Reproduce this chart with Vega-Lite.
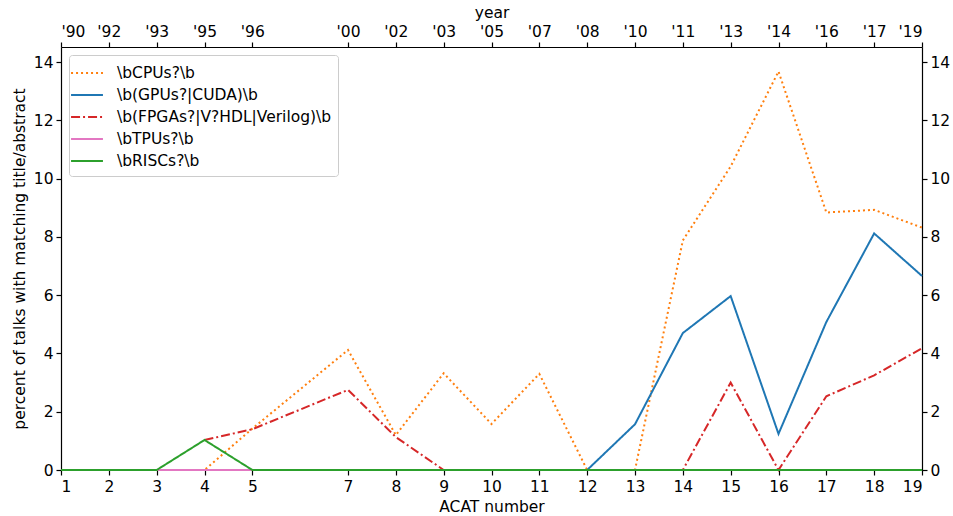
{
  "$schema": "https://vega.github.io/schema/vega-lite/v6.json",
  "width": 861,
  "height": 423,
  "autosize": "none",
  "padding": {"left": 61, "top": 47, "right": 31, "bottom": 46},
  "background": "white",
  "config": {
    "font": "DejaVu Sans",
    "view": {"stroke": null},
    "axis": {
      "domainColor": "black", "domainWidth": 1.2, "tickColor": "black", "tickWidth": 1.2, "tickSize": 5,
      "labelColor": "black", "labelFontSize": 15.5, "titleFontSize": 15.5, "titleFontWeight": "normal",
      "titleColor": "black", "grid": false, "labelPadding": 3, "zindex": 0
    }
  },
  "data": {
    "values": [
      {"acat": 1, "series": "\\bCPUs?\\b", "value": 0},
      {"acat": 2, "series": "\\bCPUs?\\b", "value": 0},
      {"acat": 3, "series": "\\bCPUs?\\b", "value": 0},
      {"acat": 4, "series": "\\bCPUs?\\b", "value": 0},
      {"acat": 5, "series": "\\bCPUs?\\b", "value": 1.42},
      {"acat": 7, "series": "\\bCPUs?\\b", "value": 4.12},
      {"acat": 8, "series": "\\bCPUs?\\b", "value": 1.2},
      {"acat": 9, "series": "\\bCPUs?\\b", "value": 3.32},
      {"acat": 10, "series": "\\bCPUs?\\b", "value": 1.58},
      {"acat": 11, "series": "\\bCPUs?\\b", "value": 3.3},
      {"acat": 12, "series": "\\bCPUs?\\b", "value": 0},
      {"acat": 13, "series": "\\bCPUs?\\b", "value": 0},
      {"acat": 14, "series": "\\bCPUs?\\b", "value": 7.88},
      {"acat": 15, "series": "\\bCPUs?\\b", "value": 10.42},
      {"acat": 16, "series": "\\bCPUs?\\b", "value": 13.68},
      {"acat": 17, "series": "\\bCPUs?\\b", "value": 8.84},
      {"acat": 18, "series": "\\bCPUs?\\b", "value": 8.93},
      {"acat": 19, "series": "\\bCPUs?\\b", "value": 8.32},
      {"acat": 1, "series": "\\b(GPUs?|CUDA)\\b", "value": 0},
      {"acat": 2, "series": "\\b(GPUs?|CUDA)\\b", "value": 0},
      {"acat": 3, "series": "\\b(GPUs?|CUDA)\\b", "value": 0},
      {"acat": 4, "series": "\\b(GPUs?|CUDA)\\b", "value": 0},
      {"acat": 5, "series": "\\b(GPUs?|CUDA)\\b", "value": 0},
      {"acat": 7, "series": "\\b(GPUs?|CUDA)\\b", "value": 0},
      {"acat": 8, "series": "\\b(GPUs?|CUDA)\\b", "value": 0},
      {"acat": 9, "series": "\\b(GPUs?|CUDA)\\b", "value": 0},
      {"acat": 10, "series": "\\b(GPUs?|CUDA)\\b", "value": 0},
      {"acat": 11, "series": "\\b(GPUs?|CUDA)\\b", "value": 0},
      {"acat": 12, "series": "\\b(GPUs?|CUDA)\\b", "value": 0},
      {"acat": 13, "series": "\\b(GPUs?|CUDA)\\b", "value": 1.57},
      {"acat": 14, "series": "\\b(GPUs?|CUDA)\\b", "value": 4.7},
      {"acat": 15, "series": "\\b(GPUs?|CUDA)\\b", "value": 5.97},
      {"acat": 16, "series": "\\b(GPUs?|CUDA)\\b", "value": 1.24},
      {"acat": 17, "series": "\\b(GPUs?|CUDA)\\b", "value": 5.08},
      {"acat": 18, "series": "\\b(GPUs?|CUDA)\\b", "value": 8.12},
      {"acat": 19, "series": "\\b(GPUs?|CUDA)\\b", "value": 6.66},
      {"acat": 4, "series": "\\b(FPGAs?|V?HDL|Verilog)\\b", "value": 1.03},
      {"acat": 5, "series": "\\b(FPGAs?|V?HDL|Verilog)\\b", "value": 1.4},
      {"acat": 7, "series": "\\b(FPGAs?|V?HDL|Verilog)\\b", "value": 2.75},
      {"acat": 8, "series": "\\b(FPGAs?|V?HDL|Verilog)\\b", "value": 1.13},
      {"acat": 9, "series": "\\b(FPGAs?|V?HDL|Verilog)\\b", "value": 0},
      {"acat": 10, "series": "\\b(FPGAs?|V?HDL|Verilog)\\b", "value": 0},
      {"acat": 11, "series": "\\b(FPGAs?|V?HDL|Verilog)\\b", "value": 0},
      {"acat": 12, "series": "\\b(FPGAs?|V?HDL|Verilog)\\b", "value": 0},
      {"acat": 13, "series": "\\b(FPGAs?|V?HDL|Verilog)\\b", "value": 0},
      {"acat": 14, "series": "\\b(FPGAs?|V?HDL|Verilog)\\b", "value": 0},
      {"acat": 15, "series": "\\b(FPGAs?|V?HDL|Verilog)\\b", "value": 3.0},
      {"acat": 16, "series": "\\b(FPGAs?|V?HDL|Verilog)\\b", "value": 0},
      {"acat": 17, "series": "\\b(FPGAs?|V?HDL|Verilog)\\b", "value": 2.53},
      {"acat": 18, "series": "\\b(FPGAs?|V?HDL|Verilog)\\b", "value": 3.25},
      {"acat": 19, "series": "\\b(FPGAs?|V?HDL|Verilog)\\b", "value": 4.18},
      {"acat": 1, "series": "\\bTPUs?\\b", "value": 0},
      {"acat": 2, "series": "\\bTPUs?\\b", "value": 0},
      {"acat": 3, "series": "\\bTPUs?\\b", "value": 0},
      {"acat": 4, "series": "\\bTPUs?\\b", "value": 0},
      {"acat": 5, "series": "\\bTPUs?\\b", "value": 0},
      {"acat": 7, "series": "\\bTPUs?\\b", "value": 0},
      {"acat": 8, "series": "\\bTPUs?\\b", "value": 0},
      {"acat": 9, "series": "\\bTPUs?\\b", "value": 0},
      {"acat": 10, "series": "\\bTPUs?\\b", "value": 0},
      {"acat": 11, "series": "\\bTPUs?\\b", "value": 0},
      {"acat": 12, "series": "\\bTPUs?\\b", "value": 0},
      {"acat": 13, "series": "\\bTPUs?\\b", "value": 0},
      {"acat": 14, "series": "\\bTPUs?\\b", "value": 0},
      {"acat": 15, "series": "\\bTPUs?\\b", "value": 0},
      {"acat": 16, "series": "\\bTPUs?\\b", "value": 0},
      {"acat": 17, "series": "\\bTPUs?\\b", "value": 0},
      {"acat": 18, "series": "\\bTPUs?\\b", "value": 0},
      {"acat": 19, "series": "\\bTPUs?\\b", "value": 0},
      {"acat": 1, "series": "\\bRISCs?\\b", "value": 0},
      {"acat": 2, "series": "\\bRISCs?\\b", "value": 0},
      {"acat": 3, "series": "\\bRISCs?\\b", "value": 0},
      {"acat": 4, "series": "\\bRISCs?\\b", "value": 1.03},
      {"acat": 5, "series": "\\bRISCs?\\b", "value": 0},
      {"acat": 7, "series": "\\bRISCs?\\b", "value": 0},
      {"acat": 8, "series": "\\bRISCs?\\b", "value": 0},
      {"acat": 9, "series": "\\bRISCs?\\b", "value": 0},
      {"acat": 10, "series": "\\bRISCs?\\b", "value": 0},
      {"acat": 11, "series": "\\bRISCs?\\b", "value": 0},
      {"acat": 12, "series": "\\bRISCs?\\b", "value": 0},
      {"acat": 13, "series": "\\bRISCs?\\b", "value": 0},
      {"acat": 14, "series": "\\bRISCs?\\b", "value": 0},
      {"acat": 15, "series": "\\bRISCs?\\b", "value": 0},
      {"acat": 16, "series": "\\bRISCs?\\b", "value": 0},
      {"acat": 17, "series": "\\bRISCs?\\b", "value": 0},
      {"acat": 18, "series": "\\bRISCs?\\b", "value": 0},
      {"acat": 19, "series": "\\bRISCs?\\b", "value": 0}
    ]
  },
  "layer": [
    {
      "mark": {"type": "line", "strokeWidth": 2, "clip": false},
      "encoding": {
        "x": {"field": "acat", "type": "quantitative",
          "scale": {"domain": [1, 19], "nice": false, "zero": false},
          "axis": {"orient": "bottom", "title": "ACAT number", "values": [1,2,3,4,5,7,8,9,10,11,12,13,14,15,16,17,18,19], "format": "d", "labelPadding": 4, "titlePadding": 5}},
        "y": {"field": "value", "type": "quantitative",
          "scale": {"domain": [0, 14.52], "nice": false},
          "axis": {"orient": "left", "title": "percent of talks with matching title/abstract", "values": [0,2,4,6,8,10,12,14], "titlePadding": 6}},
        "color": {"field": "series", "type": "nominal", "sort": null,
          "scale": {"domain": ["\\bCPUs?\\b", "\\b(GPUs?|CUDA)\\b", "\\b(FPGAs?|V?HDL|Verilog)\\b", "\\bTPUs?\\b", "\\bRISCs?\\b"],
                    "range": ["#ff7f0e", "#1f77b4", "#d62728", "#e377c2", "#2ca02c"]},
          "legend": {"title": null, "orient": "top-left", "offset": 8, "symbolType": "M-1.45,0H1.45", "symbolSize": 484, "symbolStrokeWidth": 2, "symbolFillColor": "transparent",
                     "labelFontSize": 15.5, "labelColor": "black", "labelLimit": 0, "strokeColor": "#cccccc", "fillColor": "white", "cornerRadius": 3,
                     "padding": 6, "rowPadding": 1, "labelOffset": 18}},
        "strokeDash": {"field": "series", "type": "nominal", "sort": null,
          "scale": {"domain": ["\\bCPUs?\\b", "\\b(GPUs?|CUDA)\\b", "\\b(FPGAs?|V?HDL|Verilog)\\b", "\\bTPUs?\\b", "\\bRISCs?\\b"],
                    "range": [[2, 3], [1, 0], [9, 3, 2, 3], [1, 0], [1, 0]]},
          "legend": {"title": null, "orient": "top-left", "offset": 8, "symbolType": "M-1.45,0H1.45", "symbolSize": 484, "symbolStrokeWidth": 2, "symbolFillColor": "transparent",
                     "labelFontSize": 15.5, "labelColor": "black", "labelLimit": 0, "strokeColor": "#cccccc", "fillColor": "white", "cornerRadius": 3,
                     "padding": 6, "rowPadding": 1, "labelOffset": 18}}
      }
    },
    {
      "mark": {"type": "line", "opacity": 0},
      "encoding": {
        "x": {"field": "acat", "type": "quantitative",
          "scale": {"domain": [1, 19], "nice": false, "zero": false},
          "axis": {"orient": "top", "title": "year", "values": [1,2,3,4,5,7,8,9,10,11,12,13,14,15,16,17,18,19], "labelPadding": 3, "titlePadding": 4,
                   "labelExpr": "[\"\", \"'90\", \"'92\", \"'93\", \"'95\", \"'96\", \"\", \"'00\", \"'02\", \"'03\", \"'05\", \"'07\", \"'08\", \"'10\", \"'11\", \"'13\", \"'14\", \"'16\", \"'17\", \"'19\"][datum.value]"}},
        "y": {"field": "value", "type": "quantitative",
          "scale": {"domain": [0, 14.52], "nice": false},
          "axis": {"orient": "right", "title": null, "values": [0,2,4,6,8,10,12,14]}},
        "detail": {"field": "series", "type": "nominal"}
      }
    }
  ],
  "resolve": {"axis": {"x": "independent", "y": "independent"}}
}
